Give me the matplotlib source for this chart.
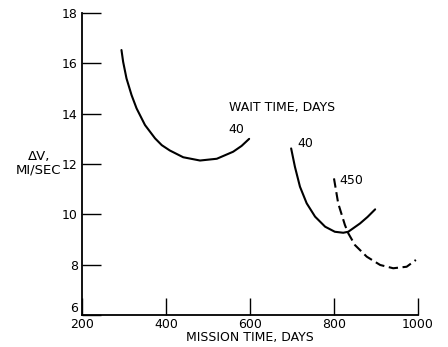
import matplotlib.pyplot as plt

# wait time 40 days, first branch
t1 = [294, 298, 306, 318, 330, 350, 374, 390, 409, 441, 481, 521, 560, 580, 598]
dv1 = [16.53, 16.06, 15.40, 14.74, 14.21, 13.55, 13.02, 12.75, 12.54, 12.27,
       12.14, 12.21, 12.49, 12.72, 13.0]

# wait time 40 days, second branch
t2 = [698, 707, 719, 735, 755, 779, 802, 822, 834, 862, 880, 898]
dv2 = [12.62, 11.89, 11.1, 10.44, 9.91, 9.51, 9.31, 9.27, 9.31, 9.64, 9.9, 10.2]

# wait time 450 days (dashed)
t3 = [800, 810, 826, 834, 850, 878, 910, 941, 973, 995]
dv3 = [11.43, 10.44, 9.58, 9.25, 8.78, 8.32, 7.99, 7.86, 7.92, 8.19]

xticks = [200, 400, 600, 800, 1000]
yticks = [6, 8, 10, 12, 14, 16, 18]

plt.rcParams['font.family'] = 'DejaVu Sans'
plt.rcParams['font.size'] = 9

fig = plt.figure(figsize=(4.48, 3.47), dpi=100)
ax = fig.add_axes([0.183, 0.092, 0.75, 0.8705])

style = dict(color='black', lw=1.5, solid_joinstyle='round',
             solid_capstyle='round')
ax.plot(t1, dv1, **style)
ax.plot(t2, dv2, **style)
ax.plot(t3, dv3, color='black', lw=1.5, dashes=(4.5, 2.2))

ax.text(550, 14.26, 'WAIT TIME, DAYS', va='center', ha='left')
ax.text(567, 13.1, '40', va='bottom', ha='center')
ax.text(712, 12.8, '40', va='center', ha='left')
ax.text(814, 11.34, '450', va='center', ha='left')

ax.set_xlim(200, 1000)
ax.set_ylim(6, 18)
ax.set_xticks(xticks)
ax.set_yticks(yticks)
ax.spines['top'].set_visible(False)
ax.spines['right'].set_visible(False)
ax.spines['left'].set_linewidth(1.3)
ax.spines['bottom'].set_linewidth(1.3)
ax.tick_params(axis='y', direction='in', length=14, width=1, pad=3)
ax.tick_params(axis='x', direction='in', length=12, width=1, pad=2)
ax.get_yticklabels()[0].set_va('bottom')

ax.set_xlabel('MISSION TIME, DAYS', labelpad=0)
fig.text(0.087, 0.53, 'ΔV,\nMI/SEC', ha='center', va='center',
         multialignment='center', fontsize=9.5, linespacing=1.0)

fig.savefig('out.png', dpi=100)
